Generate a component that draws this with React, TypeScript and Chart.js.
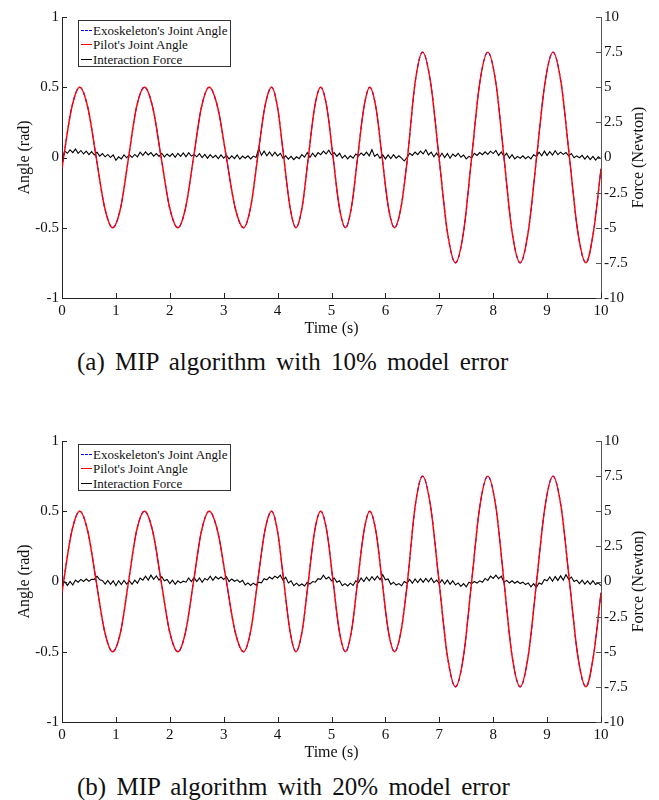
import React, { useEffect, useRef } from "react";
import { Chart, registerables } from "chart.js";

Chart.register(...registerables);

const FONT = '"Liberation Serif", "Times New Roman", Times, serif';

// ---- tick labels ----
const timeTicks = [0, 1, 2, 3, 4, 5, 6, 7, 8, 9, 10];
const angleTicks = [-1, -0.5, 0, 0.5, 1];
const forceTicks = [-10, -7.5, -5, -2.5, 0, 2.5, 5, 7.5, 10];

// ---- joint angle (rad), read at zero crossings / 45 deg / extrema ----
const angleTime = [
  0, 0.03, 0.18, 0.33, 0.48, 0.635, 0.79, 0.94, 1.09, 1.235, 1.38, 1.53, 1.685, 1.84,
  1.995, 2.15, 2.295, 2.44, 2.585, 2.73, 2.89, 3.05, 3.21, 3.37, 3.5, 3.63, 3.76, 3.89,
  4.0, 4.115, 4.23, 4.34, 4.455, 4.57, 4.685, 4.8, 4.915, 5.03, 5.145, 5.26, 5.37, 5.485,
  5.6, 5.71, 5.825, 5.94, 6.055, 6.17, 6.29, 6.41, 6.55, 6.69, 6.84, 6.995, 7.15, 7.3,
  7.45, 7.6, 7.75, 7.9, 8.05, 8.2, 8.35, 8.5, 8.65, 8.805, 8.96, 9.11, 9.26, 9.415, 9.57,
  9.72, 9.86, 10.0,
];
const pilotAngle = [
  -0.08, 0, 0.354, 0.5, 0.354, 0, -0.354, -0.5, -0.354, 0, 0.354, 0.5, 0.354, 0,
  -0.354, -0.5, -0.354, 0, 0.354, 0.5, 0.354, 0, -0.354, -0.5, -0.354, 0, 0.354, 0.5,
  0.354, 0, -0.354, -0.5, -0.354, 0, 0.354, 0.5, 0.354, 0, -0.354, -0.5, -0.354, 0,
  0.354, 0.5, 0.354, 0, -0.354, -0.5, -0.354, 0, 0.53, 0.75, 0.53, 0, -0.53, -0.75,
  -0.53, 0, 0.53, 0.75, 0.53, 0, -0.53, -0.75, -0.53, 0, 0.53, 0.75, 0.53, 0, -0.53,
  -0.75, -0.53, -0.08,
];
const exoAngle = [
  -0.08, 0, 0.354, 0.5, 0.354, 0, -0.354, -0.5, -0.354, 0, 0.354, 0.5, 0.354, 0,
  -0.354, -0.5, -0.354, 0, 0.354, 0.5, 0.354, 0, -0.354, -0.5, -0.354, 0, 0.354, 0.5,
  0.354, 0, -0.354, -0.5, -0.354, 0, 0.354, 0.5, 0.354, 0, -0.354, -0.5, -0.354, 0,
  0.354, 0.5, 0.354, 0, -0.354, -0.5, -0.354, 0, 0.53, 0.75, 0.53, 0, -0.53, -0.75,
  -0.53, 0, 0.53, 0.75, 0.53, 0, -0.53, -0.75, -0.53, 0, 0.53, 0.75, 0.53, 0, -0.53,
  -0.75, -0.53, -0.08,
];

// ---- interaction force (N), sampled every 0.05 s ----
const forceStep = 0.05;
const force10 = [
  -0.3, 0.45, 0.3, 0.55, 0.35, 0.6, 0.3, 0.5, 0.25, 0.45, 0.2, 0.42, 0.18, 0.38, 0.1, 0.28, 0.05, 0.22, 0.0, 0.18,
  -0.2, 0.05, -0.1, 0.18, -0.02, 0.2, 0.0, 0.22, 0.05, 0.38, 0.15, 0.4, 0.18, 0.35, 0.1, 0.28, 0.08, 0.3, 0.05, 0.25,
  0.08, 0.28, 0.02, 0.3, 0.08, 0.32, 0.05, 0.35, 0.1, 0.22, 0.05, 0.28, 0.0, 0.22, -0.05, 0.2, -0.02, 0.15, -0.08, 0.18,
  -0.05, 0.15, -0.1, 0.12, -0.08, 0.18, -0.12, 0.1, -0.05, 0.12, -0.1, 0.1, 0.0, 0.65, 0.15, 0.45, 0.12, 0.4, 0.1, 0.38,
  0.12, 0.3, -0.05, 0.12, -0.12, 0.08, -0.15, 0.05, -0.08, 0.2, 0.02, 0.35, 0.0, 0.3, 0.05, 0.35, 0.2, 0.45, 0.25, 0.52,
  0.2, 0.35, 0.08, 0.3, -0.05, 0.15, -0.1, 0.12, -0.05, 0.25, 0.1, 0.32, 0.15, 0.38, 0.12, 0.55, 0.08, 0.25, -0.05, 0.2,
  -0.1, 0.18, -0.08, 0.2, -0.05, 0.12, -0.05, -0.25, 0.0, 0.3, 0.15, 0.38, 0.2, 0.45, 0.25, 0.55, 0.18, 0.38, 0.05, 0.32,
  0.0, 0.3, 0.0, 0.28, -0.05, 0.25, 0.08, 0.3, 0.02, 0.18, -0.1, 0.08, -0.02, 0.3, 0.15, 0.35, 0.2, 0.4, 0.22, 0.45,
  0.28, 0.5, 0.15, 0.4, 0.08, 0.3, -0.05, 0.2, -0.1, 0.08, -0.05, 0.12, -0.08, 0.08, -0.1, 0.2, 0.08, 0.38, 0.12, 0.45,
  0.15, 0.42, 0.18, 0.48, 0.2, 0.38, 0.22, 0.35, 0.12, 0.28, -0.02, 0.12, -0.02, 0.15, -0.12, 0.12, -0.15, 0.08, -0.18, 0.05,
  -0.1,
];
const force20 = [
  -0.3, -0.02, -0.28, 0.0, -0.25, 0.1, -0.05, 0.15, 0.0, 0.18, 0.02, 0.15, 0.15, 0.38, 0.12, 0.08, -0.18, 0.08, -0.2, 0.05,
  -0.3, 0.05, -0.22, 0.08, -0.18, 0.05, -0.2, 0.1, -0.12, 0.25, 0.1, 0.38, 0.1, 0.45, 0.15, 0.4, 0.1, 0.35, 0.05, 0.15,
  -0.15, 0.1, -0.2, 0.05, -0.1, 0.02, -0.05, 0.25, 0.0, 0.28, 0.0, 0.25, -0.05, 0.22, 0.1, 0.38, 0.08, 0.35, 0.18, 0.32,
  0.15, 0.35, 0.0, 0.18, 0.02, 0.12, -0.05, 0.08, -0.25, -0.1, -0.28, -0.12, -0.25, -0.05, -0.1, 0.2, 0.12, 0.32, 0.18, 0.38,
  0.25, 0.45, 0.1, 0.3, -0.1, 0.05, -0.3, -0.12, -0.3, -0.18, -0.32, -0.05, -0.18, 0.0, -0.05, 0.2, 0.15, 0.45, 0.18, 0.32,
  0.05, 0.25, -0.05, 0.05, -0.3, -0.15, -0.32, -0.12, -0.28, 0.05, -0.08, 0.25, 0.0, 0.3, 0.05, 0.35, 0.1, 0.38, 0.12, 0.48,
  0.12, 0.18, -0.2, -0.05, -0.25, -0.15, -0.3, 0.0, -0.12, 0.15, -0.12, 0.18, -0.08, 0.2, -0.05, 0.22, -0.02, 0.25, -0.08, 0.1,
  -0.15, 0.12, -0.18, 0.1, -0.2, 0.05, -0.25, -0.1, -0.35, -0.15, -0.38, -0.05, -0.15, 0.0, -0.12, 0.05, -0.05, 0.22, 0.08, 0.38,
  0.22, 0.45, 0.2, 0.38, -0.05, 0.08, -0.1, 0.05, -0.12, 0.02, -0.15, -0.05, -0.22, -0.1, -0.38, -0.15, -0.42, -0.1, -0.2, 0.15,
  0.05, 0.32, 0.02, 0.35, 0.08, 0.4, 0.1, 0.48, 0.15, 0.32, 0.0, 0.1, -0.15, 0.1, -0.18, 0.05, -0.2, 0.05, -0.22, -0.1,
  -0.3,
];

const seriesNames = ["Exoskeleton's Joint Angle", "Pilot's Joint Angle", "Interaction Force"];

const inwardTicks = {
  id: "inwardTicks",
  afterDraw(chart: any) {
    const { ctx, chartArea: a, scales } = chart;
    ctx.save();
    ctx.lineWidth = 1;
    ctx.strokeStyle = "#222";
    const L = 5;
    scales.x.ticks.forEach((t: any) => {
      const px = Math.round(scales.x.getPixelForValue(t.value)) + 0.5;
      ctx.beginPath();
      ctx.moveTo(px, a.bottom);
      ctx.lineTo(px, a.bottom - L);
      ctx.stroke();
    });
    scales.y.ticks.forEach((t: any) => {
      const py = Math.round(scales.y.getPixelForValue(t.value)) + 0.5;
      ctx.beginPath();
      ctx.moveTo(a.left, py);
      ctx.lineTo(a.left + L, py);
      ctx.stroke();
    });
    ctx.strokeStyle = "#555";
    scales.y1.ticks.forEach((t: any) => {
      const py = Math.round(scales.y1.getPixelForValue(t.value)) + 0.5;
      ctx.beginPath();
      ctx.moveTo(a.right, py);
      ctx.lineTo(a.right - L, py);
      ctx.stroke();
    });
    // right axis title, read bottom-to-top
    ctx.translate(a.right + 38, (a.top + a.bottom) / 2);
    ctx.rotate(-Math.PI / 2);
    ctx.font = `16px ${FONT}`;
    ctx.fillStyle = "#111";
    ctx.textAlign = "center";
    ctx.textBaseline = "middle";
    ctx.fillText("Force (Newton)", 0, 0);
    ctx.restore();
  },
};

const plainLabel = (v: any) => String(v);

function Panel({ force, top }: { force: number[]; top: number }) {
  const ref = useRef<HTMLCanvasElement | null>(null);
  useEffect(() => {
    if (!ref.current) return;
    const forcePts = force.map((v, i) => ({ x: +(i * forceStep).toFixed(2), y: v }));
    const chart = new Chart(ref.current, {
      type: "line",
      data: {
        datasets: [
          {
            label: seriesNames[0],
            data: angleTime.map((t, i) => ({ x: t, y: exoAngle[i] })),
            borderColor: "#0000ff",
            borderWidth: 1.2,
            borderDash: [4, 3],
            pointRadius: 0,
            cubicInterpolationMode: "monotone",
            yAxisID: "y",
            order: 1,
          },
          {
            label: seriesNames[1],
            data: angleTime.map((t, i) => ({ x: t, y: pilotAngle[i] })),
            borderColor: "#ff0000",
            borderWidth: 1.4,
            pointRadius: 0,
            cubicInterpolationMode: "monotone",
            yAxisID: "y",
            order: 0,
          },
          {
            label: seriesNames[2],
            data: forcePts,
            borderColor: "#000000",
            borderWidth: 1.1,
            pointRadius: 0,
            tension: 0,
            yAxisID: "y1",
            order: 2,
          },
        ],
      },
      options: {
        animation: false,
        responsive: false,
        devicePixelRatio: 1,
        events: [],
        layout: { padding: { top: 17, left: 0, right: 0, bottom: 0 } },
        plugins: { legend: { display: false }, tooltip: { enabled: false } },
        scales: {
          x: {
            type: "linear",
            min: 0,
            max: 10,
            afterBuildTicks: (s: any) => {
              s.ticks = timeTicks.map((v) => ({ value: v }));
            },
            afterFit: (s: any) => {
              s.height = 42;
            },
            grid: { display: false, drawTicks: false },
            border: { display: true, color: "#222", width: 1 },
            ticks: { color: "#111", font: { family: FONT, size: 15 }, padding: 4, maxRotation: 0, callback: plainLabel },
            title: {
              display: true,
              text: "Time (s)",
              color: "#111",
              font: { family: FONT, size: 16 },
              padding: { top: 0, bottom: 1.5 },
            },
          },
          y: {
            type: "linear",
            position: "left",
            min: -1,
            max: 1,
            afterBuildTicks: (s: any) => {
              s.ticks = angleTicks.map((v) => ({ value: v }));
            },
            afterFit: (s: any) => {
              s.width = 62;
            },
            grid: { display: false, drawTicks: false },
            border: { display: true, color: "#222", width: 1 },
            ticks: { color: "#111", font: { family: FONT, size: 15 }, padding: 3, callback: plainLabel },
            title: {
              display: true,
              text: "Angle (rad)",
              color: "#111",
              font: { family: FONT, size: 16 },
              padding: { top: 15.4, bottom: 0 },
            },
          },
          y1: {
            type: "linear",
            position: "right",
            min: -10,
            max: 10,
            afterBuildTicks: (s: any) => {
              s.ticks = forceTicks.map((v) => ({ value: v }));
            },
            afterFit: (s: any) => {
              s.width = 58;
            },
            grid: { display: false, drawTicks: false },
            border: { display: true, color: "#555", width: 1 },
            ticks: { color: "#111", font: { family: FONT, size: 15 }, padding: 3, callback: plainLabel },
          },
        },
      } as any,
      plugins: [inwardTicks],
    });
    return () => chart.destroy();
  }, [force]);

  return (
    <div style={{ position: "absolute", left: 0, top, width: 659, height: 340 }}>
      <canvas ref={ref} width={659} height={340} style={{ display: "block", width: 659, height: 340 }} />
      <Legend />
    </div>
  );
}

function Legend() {
  const rowTops = [1.5, 16.2, 31.2];
  const samples = [
    { color: "#0000ff", dash: true },
    { color: "#ff0000", dash: false },
    { color: "#000000", dash: false },
  ];
  return (
    <div
      style={{
        position: "absolute",
        left: 78,
        top: 20,
        width: 151,
        height: 45,
        border: "1px solid #333",
        background: "#fff",
        fontFamily: FONT,
        fontSize: 13,
        color: "#111",
      }}
    >
      {seriesNames.map((name, i) => (
        <div
          key={name}
          style={{ position: "absolute", left: 0, top: rowTops[i], height: 15, lineHeight: "15px", whiteSpace: "nowrap" }}
        >
          <span
            style={{
              position: "absolute",
              left: 2,
              top: 7,
              width: 11,
              height: 0,
              borderTop: `1.5px ${samples[i].dash ? "dashed" : "solid"} ${samples[i].color}`,
            }}
          />
          <span style={{ position: "absolute", left: 14, top: 0 }}>{name}</span>
        </div>
      ))}
    </div>
  );
}

function Caption({ text, top }: { text: string; top: number }) {
  return (
    <div
      style={{
        position: "absolute",
        left: 77,
        top,
        height: 30,
        lineHeight: "30px",
        fontFamily: FONT,
        fontSize: 25,
        wordSpacing: 4,
        color: "#111",
        whiteSpace: "nowrap",
      }}
    >
      {text}
    </div>
  );
}

export default function App() {
  return (
    <div style={{ position: "absolute", left: 0, top: 0, width: 659, height: 800, background: "#fff", overflow: "hidden" }}>
      <Panel force={force10} top={0} />
      <Caption text="(a) MIP algorithm with 10% model error" top={347} />
      <Panel force={force20} top={424} />
      <Caption text="(b) MIP algorithm with 20% model error" top={772} />
    </div>
  );
}
